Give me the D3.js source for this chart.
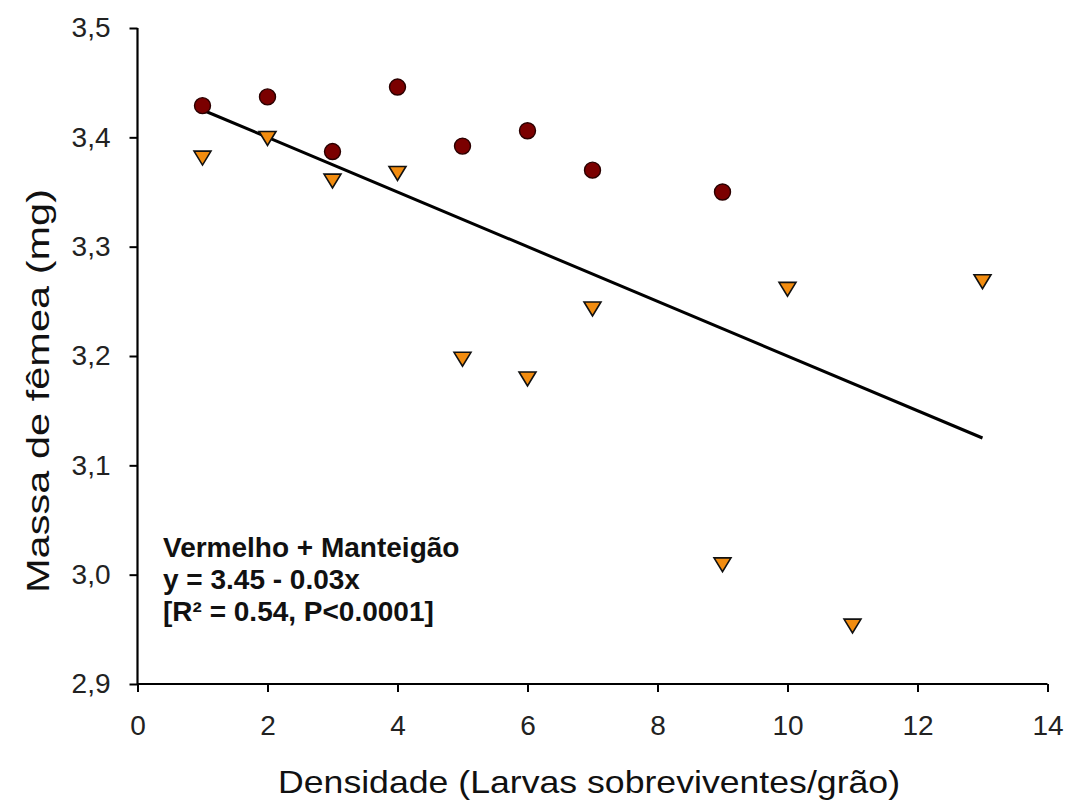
<!DOCTYPE html>
<html>
<head>
<meta charset="utf-8">
<script src="https://cdn.jsdelivr.net/npm/d3@7"></script>
<style>
  body { margin: 0; background: #fff; }
  text { font-family: "Liberation Sans", Arial, sans-serif; }
</style>
</head>
<body>
<script>
// densidade (larvas/grão) and massa de fêmea (mg)
var circleX = [1, 2, 3, 4, 5, 6, 7, 9];
var circleY = [3.429, 3.437, 3.387, 3.446, 3.392, 3.406, 3.370, 3.350];

var triX = [1, 2, 3, 4, 5, 6, 7, 9, 10, 11, 13];
var triY = [3.381, 3.399, 3.360, 3.367, 3.197, 3.179, 3.243, 3.009, 3.261, 2.953, 3.268];

// regression line y = 3.45 - 0.025x, drawn from x=1 to x=13
var fitX = [1, 13];
var fitIntercept = 3.45;
var fitSlope = -0.025;

var xTicks = [0, 2, 4, 6, 8, 10, 12, 14];
var yTicks = [2.9, 3.0, 3.1, 3.2, 3.3, 3.4, 3.5];

var noteLines = ["Vermelho + Manteigão", "y = 3.45 - 0.03x", "[R² = 0.54, P<0.0001]"];

var width = 1067;
var height = 802;

var svg = d3.select("body")
    .append("svg")
    .attr("width", width)
    .attr("height", height);

var xScale = d3.scaleLinear()
    .domain([0, 14])
    .range([137.5, 1047.5]);

var yScale = d3.scaleLinear()
    .domain([2.9, 3.5])
    .range([684, 28]);

var xAxis = d3.axisBottom(xScale)
    .tickValues(xTicks)
    .tickSize(8)
    .tickPadding(23)
    .tickFormat(d3.format("d"));

var yAxis = d3.axisLeft(yScale)
    .tickValues(yTicks)
    .tickSize(8)
    .tickPadding(19)
    .tickFormat(function(d) { return d3.format(".1f")(d).replace(".", ","); });

var gx = svg.append("g")
    .attr("transform", "translate(0," + yScale(2.9) + ")")
    .call(xAxis);

var gy = svg.append("g")
    .attr("transform", "translate(" + xScale(0) + ",0)")
    .call(yAxis);

[gx, gy].forEach(function(g) {
    g.select(".domain").attr("stroke", "#000").attr("stroke-width", 2.2);
    g.selectAll(".tick line").attr("stroke", "#000").attr("stroke-width", 2);
    g.selectAll(".tick text")
        .attr("fill", "#222")
        .style("font-size", "28px")
        .style("font-family", "Liberation Sans, Arial, sans-serif");
});
gx.select(".domain").attr("d", "M" + xScale(0) + ",0H" + xScale(14));
gy.select(".domain").attr("d", "M0," + yScale(2.9) + "V" + yScale(3.5));

// axis titles
svg.append("text")
    .attr("x", 278)
    .attr("y", 793)
    .attr("textLength", 622)
    .attr("lengthAdjust", "spacingAndGlyphs")
    .style("font-size", "32px")
    .attr("fill", "#111")
    .text("Densidade (Larvas sobreviventes/grão)");

svg.append("text")
    .attr("transform", "translate(49,593) rotate(-90)")
    .attr("textLength", 404)
    .attr("lengthAdjust", "spacingAndGlyphs")
    .style("font-size", "32px")
    .attr("fill", "#111")
    .text("Massa de fêmea (mg)");

// regression line
svg.append("line")
    .attr("x1", xScale(fitX[0]))
    .attr("y1", yScale(fitIntercept + fitSlope * fitX[0]))
    .attr("x2", xScale(fitX[1]))
    .attr("y2", yScale(fitIntercept + fitSlope * fitX[1]))
    .attr("stroke", "#000")
    .attr("stroke-width", 3);

// downward triangle centred on its bounding box
var triDown = {
    draw: function(context, size) {
        var w = Math.sqrt(size) * 0.75, h = w * 0.82;
        context.moveTo(-w, -h);
        context.lineTo(w, -h);
        context.lineTo(0, h);
        context.closePath();
    }
};

svg.selectAll("path.tri")
    .data(triX)
    .enter()
    .append("path")
    .attr("class", "tri")
    .attr("d", d3.symbol().type(triDown).size(128))
    .attr("transform", function(d, i) {
        return "translate(" + xScale(d) + "," + yScale(triY[i]) + ")";
    })
    .attr("fill", "#f28c0f")
    .attr("stroke", "#111")
    .attr("stroke-width", 1.6)
    .attr("stroke-linejoin", "miter");

// circles
svg.selectAll("circle")
    .data(circleX)
    .enter()
    .append("circle")
    .attr("cx", function(d) { return xScale(d); })
    .attr("cy", function(d, i) { return yScale(circleY[i]); })
    .attr("r", 8)
    .attr("fill", "#7b0000")
    .attr("stroke", "#2a0000")
    .attr("stroke-width", 1.4);

// annotation
svg.append("g")
    .selectAll("text")
    .data(noteLines)
    .enter()
    .append("text")
    .attr("x", 163)
    .attr("y", function(d, i) { return 557 + i * 32; })
    .style("font-size", "28px")
    .style("font-weight", "bold")
    .attr("fill", "#111")
    .text(function(d) { return d; });
</script>
</body>
</html>
